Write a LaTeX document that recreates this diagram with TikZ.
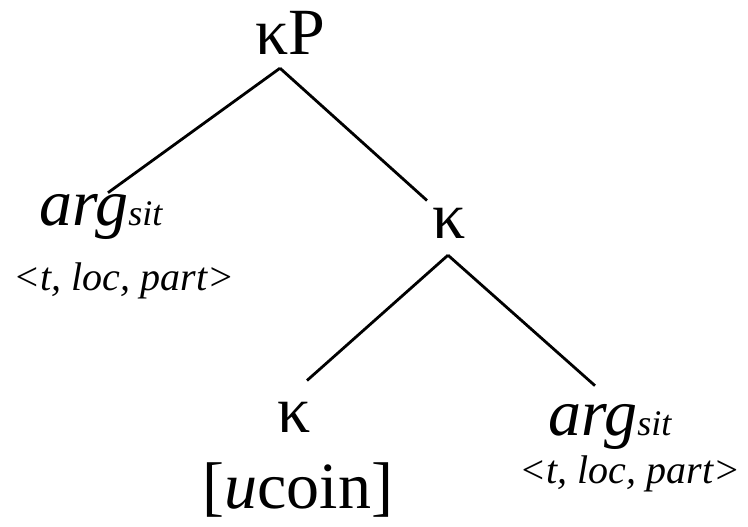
\documentclass[tikz,border=0pt]{standalone}
\usepackage{fontspec}
\setmainfont{Liberation Serif}
\usepackage{tikz}
\usetikzlibrary{calc}
\tikzstyle{cat}=[inner sep=0pt, anchor=base, font=\fontsize{66}{72}\selectfont]
\tikzstyle{feat}=[inner sep=0pt, anchor=base, font=\fontsize{40}{45}\selectfont\itshape]
\tikzstyle{branch}=[line width=2.8pt]
\newcommand{\argsit}{\textit{arg}{\fontsize{36}{40}\selectfont\textit{sit}}}

\begin{document}
\begin{tikzpicture}[x=1pt,y=-1pt]
    \useasboundingbox (0,0) rectangle (748,527);

    %labels
    \node [cat] (kP) at (290,55) {κP};
    \node [cat] (arg1) at (101,225) {\argsit};
    \node [feat] (feat1) at (124,290) {<t, loc, part>};
    \node [cat] (k1) at (449,238) {κ};
    \node [cat] (k2) at (294,432) {κ};
    \node [cat] (coin) at (298,508) {[\textit{u}coin]};
    \node [cat] (arg2) at (610,435) {\argsit};
    \node [feat] (feat2) at (630,483) {<t, loc, part>};

    %branches
    \draw [branch] ([shift={(-10,13)}]kP.south) -- ([shift={(7,-1)}]arg1.north);
    \draw [branch] ([shift={(-10,13)}]kP.south) -- ([shift={(-22,-7)}]k1.north);
    \draw [branch] ([shift={(-1,17)}]k1.south) -- ([shift={(13,-21)}]k2.north);
    \draw [branch] ([shift={(-1,17)}]k1.south) -- ([shift={(-15,-18)}]arg2.north);

\end{tikzpicture}
\end{document}
